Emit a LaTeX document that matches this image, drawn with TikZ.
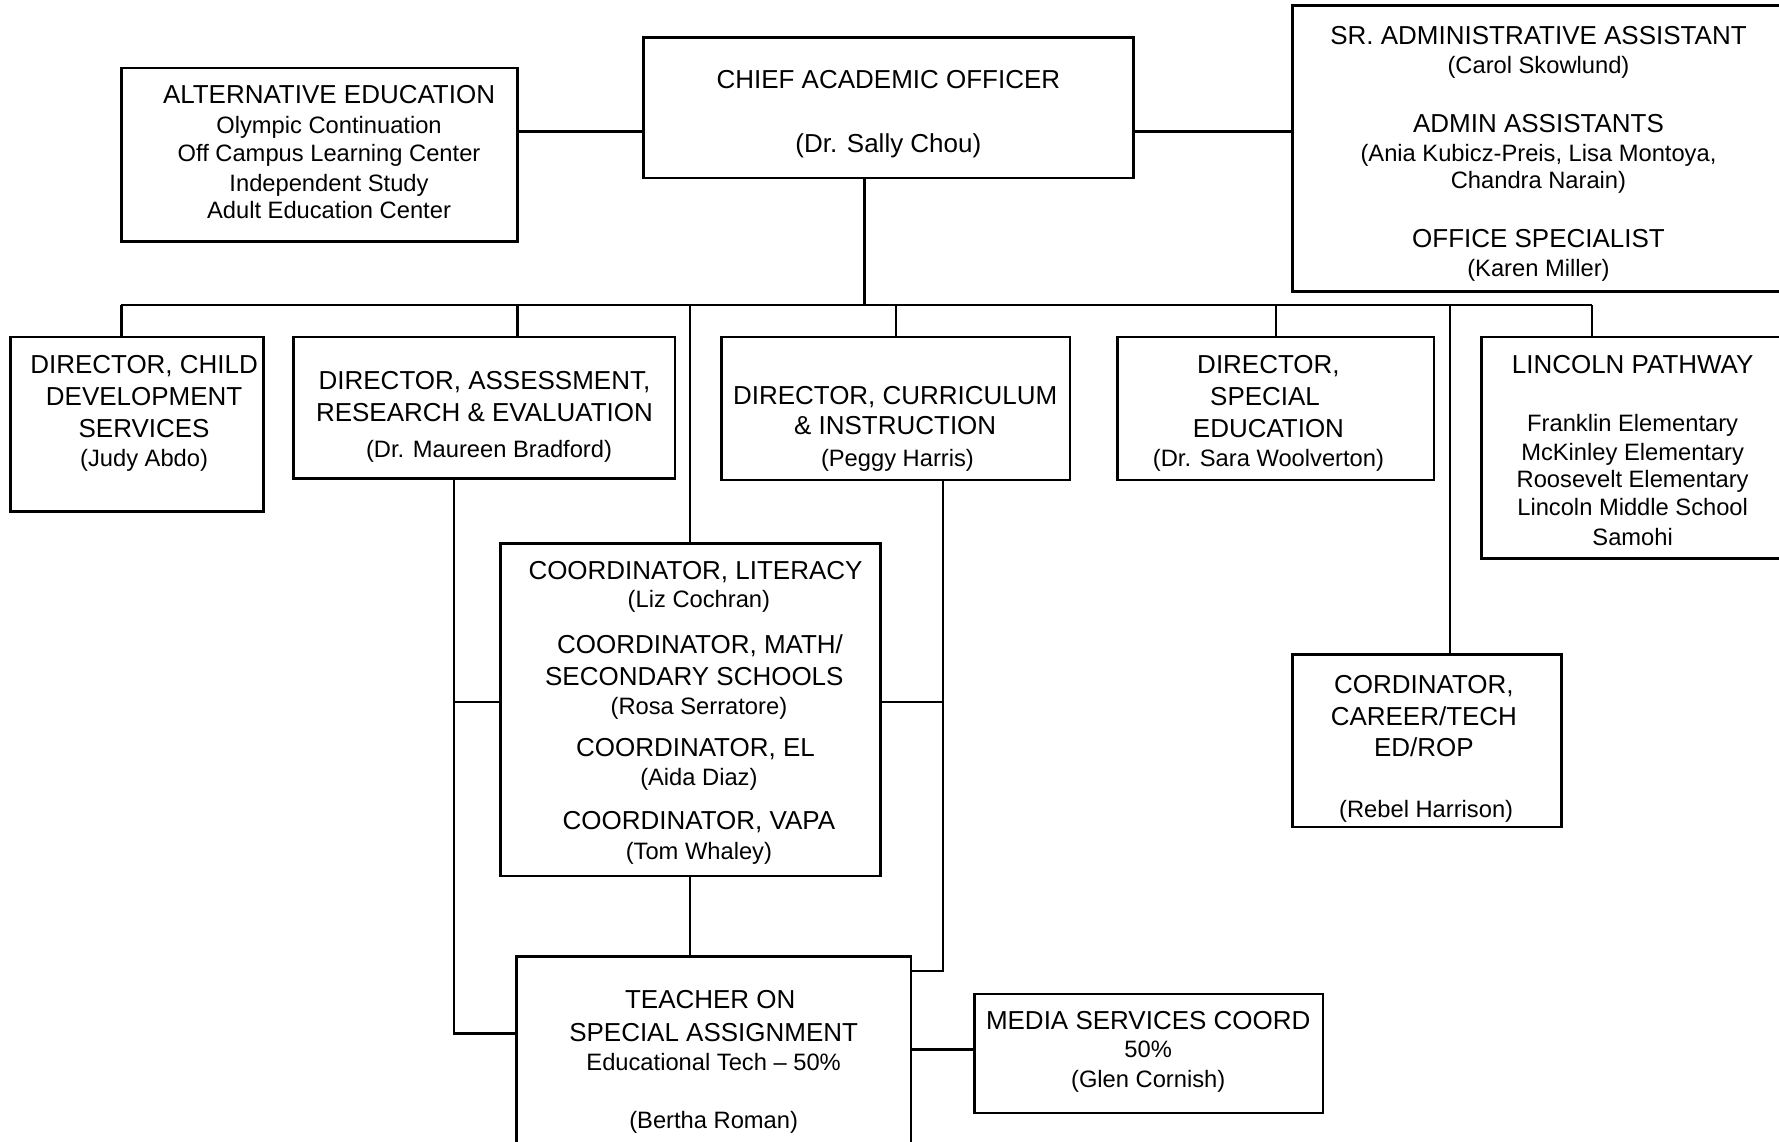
\documentclass[tikz,border=0pt]{standalone}
\usepackage{fontspec}
\setmainfont{Liberation Sans}
\usetikzlibrary{fit}
\newcommand\TxtLine[5]{\node[#4] (#1) at (#2,#3) {#5};}
\begin{document}
\begin{tikzpicture}[x=0.5pt,y=-0.5pt,
  box/.style={draw, line width=1.2pt, inner sep=0pt},
  ln/.style={line width=1.05pt},
  ttl/.style={font=\fontsize{11.45}{13}\selectfont, inner sep=0pt, text height=8.2pt, text depth=0pt, anchor=center},
  dtl/.style={font=\fontsize{10.45}{12}\selectfont, inner sep=0pt, text height=7.5pt, text depth=0pt, anchor=center}]
\fill[white] (0,0) rectangle (1568,1006);
\useasboundingbox (0,0) rectangle (1568,1006);
\clip (0,0) rectangle (1568,1006);

% boxes
\node[box, fit={(107,60) (456,213)}] (alt) {};
\node[box, fit={(567,33) (999,157)}] (cao) {};
\node[box, fit={(1139,5) (1580,257)}] (sr) {};
\node[box, fit={(9,297) (232,451)}] (cd) {};
\node[box, fit={(259,297) (595,422)}] (ass) {};
\node[box, fit={(636,297) (943,423)}] (cur) {};
\node[box, fit={(985,297) (1264,423)}] (sp) {};
\node[box, fit={(1306,297) (1580,492)}] (lin) {};
\node[box, fit={(441,479) (776,772)}] (lit) {};
\node[box, fit={(1139,577) (1376,729)}] (car) {};
\node[box, fit={(455,843) (803,1020)}] (tea) {};
\node[box, fit={(859,876) (1166,981)}] (med) {};

% texts
\TxtLine{alt1}{290}{83}{ttl}{ALTERNATIVE EDUCATION}
\TxtLine{alt2}{290}{110}{dtl}{Olympic Continuation}
\TxtLine{alt3}{290}{135}{dtl}{Off Campus Learning Center}
\TxtLine{alt4}{290}{161}{dtl}{Independent Study}
\TxtLine{alt5}{290}{185}{dtl}{Adult Education Center}

\TxtLine{cao1}{783}{70}{ttl}{CHIEF ACADEMIC OFFICER}
\TxtLine{cao2}{783}{126}{ttl}{(Dr. Sally Chou)}

\TxtLine{sr1}{1356}{31}{ttl}{SR. ADMINISTRATIVE ASSISTANT}
\TxtLine{sr2}{1356}{57}{dtl}{(Carol Skowlund)}
\TxtLine{sr3}{1356}{109}{ttl}{ADMIN ASSISTANTS}
\TxtLine{sr4}{1356}{135}{dtl}{(Ania Kubicz-Preis, Lisa Montoya,}
\TxtLine{sr5}{1356}{159}{dtl}{Chandra Narain)}
\TxtLine{sr6}{1356}{210}{ttl}{OFFICE SPECIALIST}
\TxtLine{sr7}{1356}{236}{dtl}{(Karen Miller)}

\TxtLine{cd1}{127}{321}{ttl}{DIRECTOR, CHILD}
\TxtLine{cd2}{127}{349}{ttl}{DEVELOPMENT}
\TxtLine{cd3}{127}{377}{ttl}{SERVICES}
\TxtLine{cd4}{127}{404}{dtl}{(Judy Abdo)}

\TxtLine{ass1}{427}{335}{ttl}{DIRECTOR, ASSESSMENT,}
\TxtLine{ass2}{427}{363}{ttl}{RESEARCH \& EVALUATION}
\TxtLine{ass3}{431}{396}{dtl}{(Dr. Maureen Bradford)}

\TxtLine{cur1}{789}{348}{ttl}{DIRECTOR, CURRICULUM}
\TxtLine{cur2}{789}{375}{ttl}{\& INSTRUCTION}
\TxtLine{cur3}{791}{404}{dtl}{(Peggy Harris)}

\TxtLine{sp1}{1118}{321}{ttl}{DIRECTOR,}
\TxtLine{sp2}{1115}{349}{ttl}{SPECIAL}
\TxtLine{sp3}{1118}{377}{ttl}{EDUCATION}
\TxtLine{sp4}{1118}{404}{dtl}{(Dr. Sara Woolverton)}

\TxtLine{lin1}{1439}{321}{ttl}{LINCOLN PATHWAY}
\TxtLine{lin2}{1439}{373}{dtl}{Franklin Elementary}
\TxtLine{lin3}{1439}{398}{dtl}{McKinley Elementary}
\TxtLine{lin4}{1439}{422}{dtl}{Roosevelt Elementary}
\TxtLine{lin5}{1439}{447}{dtl}{Lincoln Middle School}
\TxtLine{lin6}{1439}{473}{dtl}{Samohi}

\TxtLine{lit1}{613}{503}{ttl}{COORDINATOR, LITERACY}
\TxtLine{lit2}{616}{528}{dtl}{(Liz Cochran)}
\TxtLine{lit3}{617}{568}{ttl}{COORDINATOR, MATH/}
\TxtLine{lit4}{612}{596}{ttl}{SECONDARY SCHOOLS}
\TxtLine{lit5}{616}{622}{dtl}{(Rosa Serratore)}
\TxtLine{lit6}{613}{659}{ttl}{COORDINATOR, EL}
\TxtLine{lit7}{616}{685}{dtl}{(Aida Diaz)}
\TxtLine{lit8}{616}{723}{ttl}{COORDINATOR, VAPA}
\TxtLine{lit9}{616}{750}{dtl}{(Tom Whaley)}

\TxtLine{car1}{1255}{603}{ttl}{CORDINATOR,}
\TxtLine{car2}{1255}{631}{ttl}{CAREER/TECH}
\TxtLine{car3}{1255}{659}{ttl}{ED/ROP}
\TxtLine{car4}{1257}{713}{dtl}{(Rebel Harrison)}

\TxtLine{tea1}{626}{881}{ttl}{TEACHER ON}
\TxtLine{tea2}{629}{910}{ttl}{SPECIAL ASSIGNMENT}
\TxtLine{tea3}{629}{936}{dtl}{Educational Tech \textendash{} 50\%}
\TxtLine{tea4}{629}{987}{dtl}{(Bertha Roman)}

\TxtLine{med1}{1012}{899}{ttl}{MEDIA SERVICES COORD}
\TxtLine{med2}{1012}{925}{dtl}{50\%}
\TxtLine{med3}{1012}{951}{dtl}{(Glen Cornish)}

% helper coordinates
\coordinate (busL) at (107,269);
\coordinate (busR) at (1403,269);
\coordinate (busC) at (762,269);
\coordinate (dAss) at (456,269);
\coordinate (dLit) at (608,269);
\coordinate (dCar) at (1278,269);
\coordinate (hTop) at (0,116);
\coordinate (vA) at (400,0);
\coordinate (vC) at (831,0);
\coordinate (hMid) at (0,619);
\coordinate (hA) at (0,911);
\coordinate (hC) at (0,856);
\coordinate (hM) at (0,925);

% connectors
\draw[ln] (alt.east |- hTop) -- (cao.west |- hTop);
\draw[ln] (cao.east |- hTop) -- (sr.west |- hTop);
\draw[ln] (busC |- cao.south) -- (busC);
\draw[ln] (busL) -- (busR);
\draw[ln] (busL) -- (busL |- cd.north);
\draw[ln] (dAss) -- (dAss |- ass.north);
\draw[ln] (dLit) -- (dLit |- lit.north);
\draw[ln] (cur.north |- busL) -- (cur.north);
\draw[ln] (sp.north |- busL) -- (sp.north);
\draw[ln] (dCar) -- (dCar |- car.north);
\draw[ln] (busR) -- (busR |- lin.north);
\draw[ln] (vA |- ass.south) -- (vA |- hA) -- (tea.west |- hA);
\draw[ln] (vA |- hMid) -- (lit.west |- hMid);
\draw[ln] (vC |- cur.south) -- (vC |- hC) -- (tea.east |- hC);
\draw[ln] (lit.east |- hMid) -- (vC |- hMid);
\draw[ln] (dLit |- lit.south) -- (dLit |- tea.north);
\draw[ln] (tea.east |- hM) -- (med.west |- hM);
\end{tikzpicture}
\end{document}
